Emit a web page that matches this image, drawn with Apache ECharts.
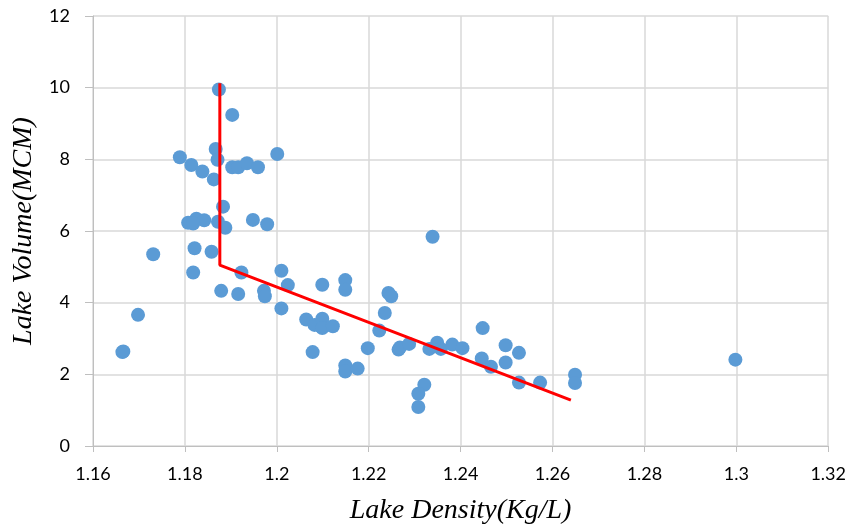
<!DOCTYPE html>
<html><head><meta charset="utf-8">
<script src="https://cdn.jsdelivr.net/npm/echarts@6/dist/echarts.min.js"></script>
<style>html,body{margin:0;padding:0;background:#fff}#c{width:849px;height:530px}</style>
</head><body><div id="c"></div>
<script>
const density = [1.1874,1.1903,1.1867,1.1789,1.1871,1.1814,1.1838,1.1903,1.1916,1.1935,1.1959,1.2001,1.1863,1.1883,
1.1807,1.1825,1.1842,1.1818,1.1872,1.1888,1.1948,1.1979,1.1731,1.1821,1.1858,1.1818,1.1923,1.2010,
1.1879,1.1916,1.1972,1.1974,1.2024,1.2010,1.1698,1.1664,1.1666,1.2064,1.2078,1.2093,
1.2082,1.2099,1.2099,1.2122,1.2099,1.2149,1.2149,1.2149,1.2149,1.2176,1.2198,1.2223,1.2235,1.2243,1.2249,
1.2265,1.2268,1.2288,1.2339,1.2321,1.2308,1.2308,1.2332,1.2349,1.2357,1.2382,1.2404,1.2448,1.2446,1.2466,
1.2498,1.2498,1.2527,1.2527,1.2573,1.2649,1.2649,1.2998];
const volume = [9.95,9.24,8.29,8.06,7.99,7.84,7.66,7.78,7.78,7.89,7.78,8.15,7.44,6.68,
6.23,6.34,6.30,6.21,6.26,6.09,6.31,6.19,5.35,5.52,5.42,4.84,4.84,4.89,
4.33,4.24,4.33,4.18,4.49,3.84,3.66,2.62,2.64,3.53,2.62,3.36,
3.38,3.55,3.29,3.34,4.50,4.63,4.36,2.25,2.08,2.16,2.73,3.22,3.71,4.27,4.18,
2.69,2.75,2.85,5.84,1.71,1.46,1.09,2.71,2.88,2.71,2.83,2.73,3.29,2.44,2.21,
2.81,2.33,2.60,1.77,1.77,1.99,1.76,2.41];
const trendX = [1.1876,1.1876,1.2640];
const trendY = [10.12,5.05,1.28];
const xTicks = ['1.16','1.18','1.2','1.22','1.24','1.26','1.28','1.3','1.32'];

const pts = density.map((d,i)=>[d,volume[i]]);
const trend = trendX.map((d,i)=>[d,trendY[i]]);
const chart = echarts.init(document.getElementById('c'));
const tickFont = {fontFamily:'Lato, "Open Sans", sans-serif', fontSize:18, color:'#000'};
const titleFont = {fontFamily:'"Liberation Serif", serif',fontStyle:'italic',fontSize:28,color:'#000'};
chart.setOption({
  animation:false,
  grid:{left:93,right:19,top:16,bottom:82,containLabel:false},
  xAxis:{type:'value',min:1.16,max:1.32,interval:0.02,
    name:'Lake Density(Kg/L)',nameLocation:'middle',nameGap:51,
    nameTextStyle:titleFont,
    axisLine:{show:true,lineStyle:{color:'#bfbfbf',width:1}},
    axisTick:{show:true,length:6,lineStyle:{color:'#bfbfbf'}},
    splitLine:{show:true,lineStyle:{color:'#d9d9d9',width:1.5}},
    axisLabel:Object.assign({margin:19,formatter:v=>{const i=Math.round((v-1.16)/0.02);return xTicks[i]||'';}},tickFont)},
  yAxis:{type:'value',min:0,max:12,interval:2,
    name:'Lake Volume(MCM)',nameLocation:'middle',nameGap:55,
    nameTextStyle:titleFont,
    axisLine:{show:true,lineStyle:{color:'#bfbfbf',width:1}},
    axisTick:{show:true,length:8,lineStyle:{color:'#bfbfbf'}},
    splitLine:{show:true,lineStyle:{color:'#d9d9d9',width:1.5}},
    axisLabel:Object.assign({margin:23},tickFont)},
  series:[
    {type:'scatter',data:pts,symbolSize:14,itemStyle:{color:'#5b9bd5',opacity:1},z:2},
    {type:'line',data:trend,symbol:'none',lineStyle:{color:'#ff0000',width:3},z:3}
  ]
});
</script></body></html>
